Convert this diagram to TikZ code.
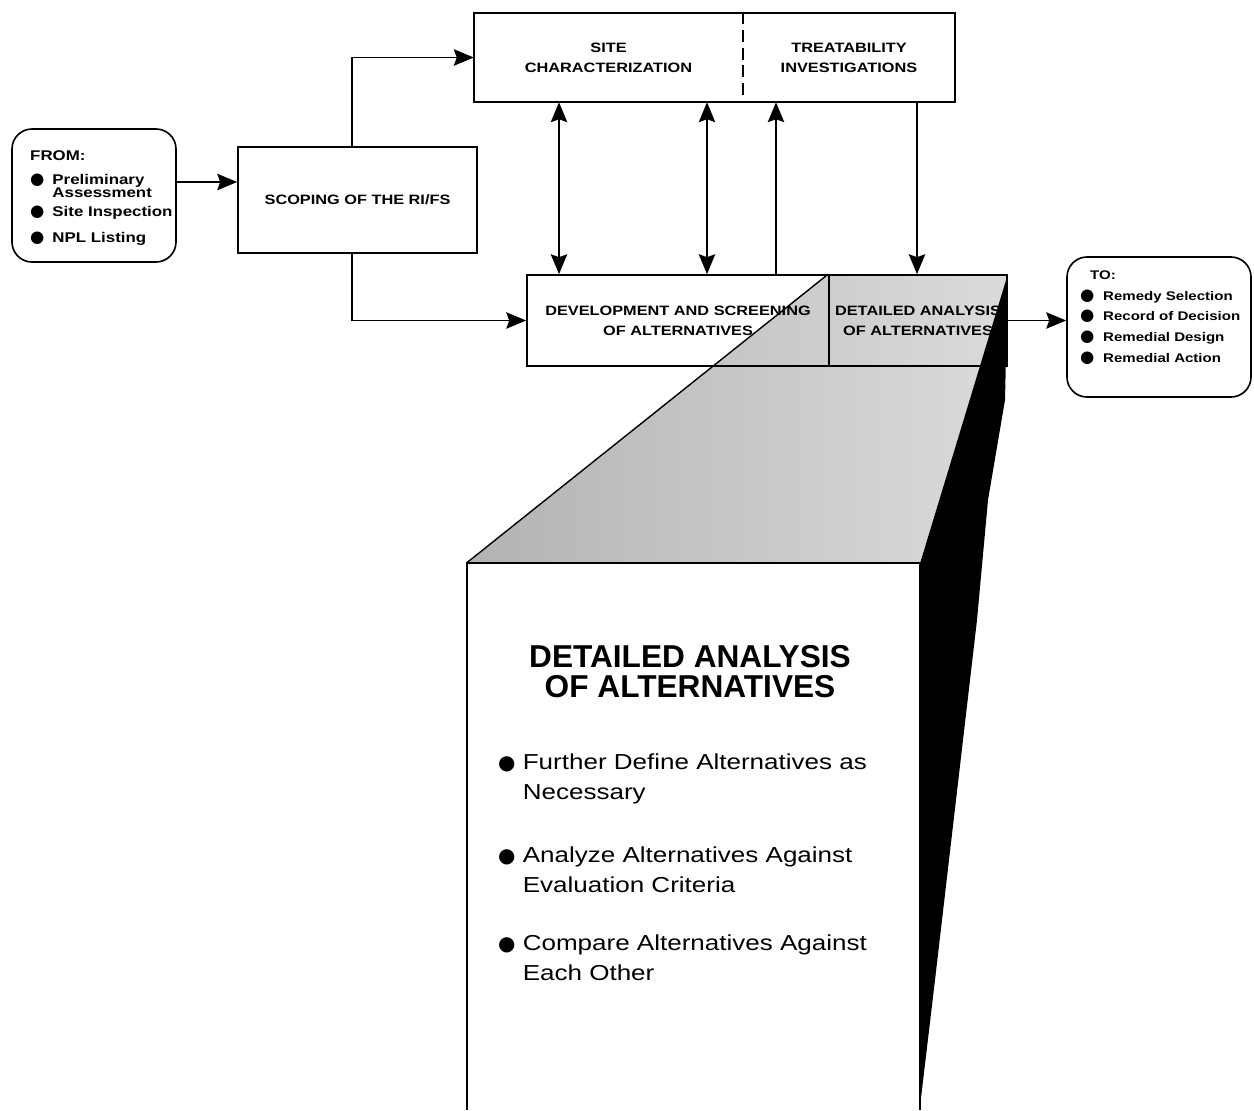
\documentclass[tikz,border=0pt]{standalone}
\usepackage{fontspec}
\setmainfont{Liberation Sans}
\newfontfamily\lblfont[FakeStretch=1.2]{Liberation Sans}
\newfontfamily\itemfont[FakeStretch=1.2]{Liberation Sans}
\newfontfamily\dotfont{DejaVu Sans}
\usetikzlibrary{arrows.meta,backgrounds}
% bullet in a box of fixed width: #1 box width, #2 dot font size
\newcommand\itemdot[2]{\makebox[#1][l]{\dotfont\mdseries\fontsize{#2}{#2}\selectfont ●}}

\begin{document}
\begin{tikzpicture}[x=0.03cm, y=-0.03cm,
  edge/.style={line width=1.4pt},
  flow/.style={edge, -{Stealth[length=17pt,width=14pt,inset=2.5pt]}},
  twoway/.style={edge, {Stealth[length=17pt,width=14pt,inset=2.5pt]}-{Stealth[length=17pt,width=14pt,inset=2.5pt]}},
  wh/.style 2 args={minimum width=#1*0.03cm, minimum height=#2*0.03cm},
  box/.style={rectangle, inner sep=0pt, align=center, font=\lblfont\bfseries\fontsize{11.6}{17}\selectfont},
  framed/.style={box, draw, line width=1.4pt},
  roundbox/.style={rectangle, inner sep=0pt, draw, line width=1.4pt, rounded corners=0.6cm},
  listtext/.style={inner sep=0pt, anchor=north west, align=left, font=\lblfont\bfseries\fontsize{12}{11.1}\selectfont},
  bigitem/.style={inner sep=0pt, anchor=north west, align=left, font=\itemfont\fontsize{18.5}{25.6}\selectfont},
]
\useasboundingbox (0,0) rectangle (1254,1110);

% ---- source and destination boxes
\node[roundbox, wh={164}{133}] (from) at (94,195.5) {};
\node[listtext] (fromlist) at (30,150) {FROM:\\[10pt]
  \itemdot{19pt}{14}Preliminary\\
  \hspace*{19pt}Assessment\\[5pt]
  \itemdot{19pt}{14}Site Inspection\\[10pt]
  \itemdot{19pt}{14}NPL Listing};

\node[roundbox, wh={184}{140}] (to) at (1159,327) {};
\node[listtext, font=\lblfont\bfseries\fontsize{10.7}{17.7}\selectfont] (tolist) at (1080,270.5) {\hspace*{8.5pt}TO:\\
  \itemdot{19.6pt}{14}Remedy Selection\\
  \itemdot{19.6pt}{14}Record of Decision\\
  \itemdot{19.6pt}{14}Remedial Design\\
  \itemdot{19.6pt}{14}Remedial Action};

% ---- scoping
\node[framed, wh={239}{106}] (scope) at (357.5,200) {SCOPING OF THE RI/FS};

% ---- site characterization / treatability investigations
\node[box, wh={269}{89}] (site) at (608.5,57.5) {SITE\\CHARACTERIZATION};
\node[box, wh={212}{89}] (treat) at (849,57.5) {TREATABILITY\\INVESTIGATIONS};
\draw[edge] (site.north west) rectangle (treat.south east);
\draw[edge, dash pattern=on 10pt off 5pt] (site.north east) -- (site.south east);

% ---- alternatives row
\node[framed, wh={302}{91}] (dev) at (678,320.5) {DEVELOPMENT AND SCREENING\\OF ALTERNATIVES};
\node[framed, wh={178}{91}] (det) at (918,320.5) {DETAILED ANALYSIS\\OF ALTERNATIVES};

% ---- enlarged view of the detailed analysis step
\node[inner sep=0pt, wh={453}{547}, fill=white] (big) at (693.5,836.5) {};
\begin{scope}[on background layer]
  \shade[left color=black!30, middle color=black!46, right color=black!14]
    (det.north west) -- (det.north east) -- (big.north east) -- (big.north west) -- cycle;
\end{scope}
\draw[line width=1.2pt] (big.north west) -- (det.north west);
\draw[edge] (big.south west) -- (big.north west) -- (big.north east) -- (big.south east);
\fill[black] (det.north east) -- (1005,400) -- (988,500) -- (977,620) -- (935,980)
  -- (921,1098) -- (big.north east) -- cycle;

\node[font=\bfseries\fontsize{27}{25.6}\selectfont, align=center] (title) at (690,672)
  {DETAILED ANALYSIS\\OF ALTERNATIVES};
\node[bigitem] (item1) at (498,754) {\itemdot{21pt}{17}Further Define Alternatives as\\\hspace*{21pt}Necessary};
\node[bigitem] (item2) at (498,847) {\itemdot{21pt}{17}Analyze Alternatives Against\\\hspace*{21pt}Evaluation Criteria};
\node[bigitem] (item3) at (498,935) {\itemdot{21pt}{17}Compare Alternatives Against\\\hspace*{21pt}Each Other};

% ---- connectors
\coordinate (rowA) at (0,182);
\coordinate (colA) at (352,0);
\coordinate (colB) at (559,0);
\coordinate (colC) at (707,0);
\coordinate (colD) at (776,0);
\coordinate (colE) at (917,0);
\draw[flow] (from.east |- rowA) -- (scope.west |- rowA);
\draw[flow] (scope.north -| colA) |- (site.west);
\draw[flow] (scope.south -| colA) |- (dev.west);
\draw[twoway] (site.south -| colB) -- (dev.north -| colB);
\draw[twoway] (site.south -| colC) -- (dev.north -| colC);
\draw[flow] (dev.north -| colD) -- (treat.south -| colD);
\draw[flow] (treat.south -| colE) -- (det.north -| colE);
\draw[flow] (det.east) -- (det.east -| to.west);
\end{tikzpicture}
\end{document}
